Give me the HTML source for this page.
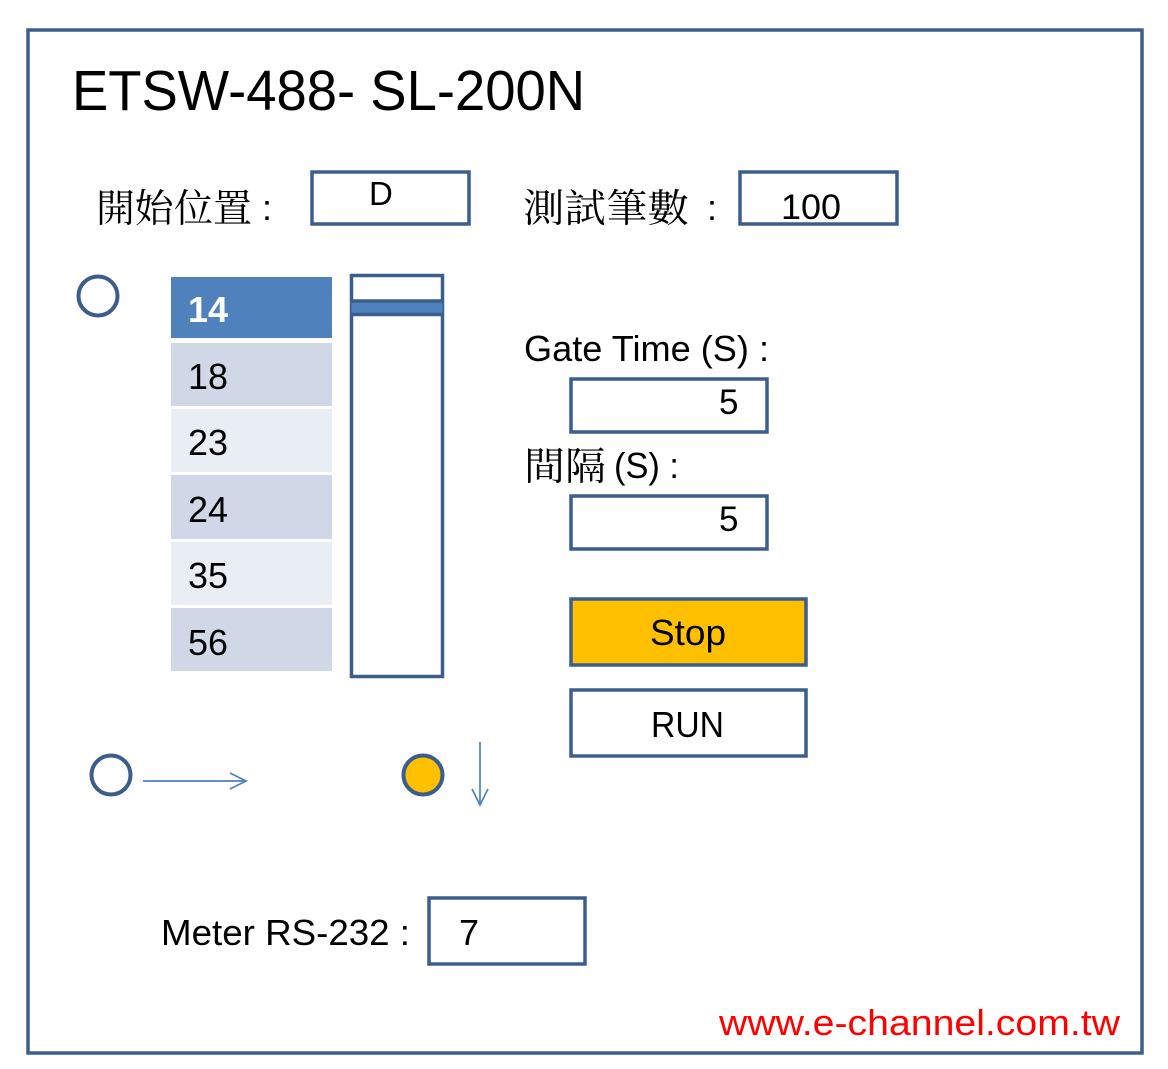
<!DOCTYPE html>
<html><head><meta charset="utf-8"><style>html,body{margin:0;padding:0;background:#fff}svg{display:block}</style></head>
<body>
<svg width="1168" height="1069" viewBox="0 0 1168 1069" xmlns="http://www.w3.org/2000/svg" font-family="'Liberation Sans', sans-serif">
<rect x="0" y="0" width="1168" height="1069" fill="#fff"/>
<rect x="28" y="30" width="1114" height="1023" fill="none" stroke="#3b5e8c" stroke-width="3.5"/>
<text x="72" y="110" font-size="57" textLength="513" lengthAdjust="spacingAndGlyphs">ETSW-488- SL-200N</text>

<text x="96" y="222" font-size="39" font-family="'Liberation Serif','Noto Serif CJK TC','Noto Serif CJK SC',serif" textLength="156" lengthAdjust="spacingAndGlyphs">開始位置</text>
<text x="262" y="220" font-size="36">:</text>
<rect x="312" y="172" width="157" height="52" fill="#fff" stroke="#3b5e8c" stroke-width="3.5"/>
<text x="369" y="205" font-size="33">D</text>

<text x="523" y="222" font-size="39" font-family="'Liberation Serif','Noto Serif CJK TC','Noto Serif CJK SC',serif" textLength="166" lengthAdjust="spacingAndGlyphs">測試筆數</text>
<text x="707" y="220" font-size="36">:</text>
<rect x="740" y="172" width="157" height="52" fill="#fff" stroke="#3b5e8c" stroke-width="3.5"/>
<text x="781" y="219" font-size="35" textLength="60" lengthAdjust="spacingAndGlyphs">100</text>

<circle cx="98" cy="296" r="19.5" fill="none" stroke="#3b5e8c" stroke-width="4"/>

<rect x="171" y="277" width="161" height="61" fill="#4f81bd"/>
<text x="188" y="322" font-size="36" font-weight="bold" fill="#fff" textLength="40" lengthAdjust="spacingAndGlyphs">14</text>
<rect x="171" y="343" width="161" height="63" fill="#d0d8e8"/>
<text x="188" y="389" font-size="36" textLength="40" lengthAdjust="spacingAndGlyphs">18</text>
<rect x="171" y="409" width="161" height="63" fill="#e9edf4"/>
<text x="188" y="455" font-size="36" textLength="40" lengthAdjust="spacingAndGlyphs">23</text>
<rect x="171" y="475" width="161" height="64" fill="#d0d8e8"/>
<text x="188" y="522" font-size="36" textLength="40" lengthAdjust="spacingAndGlyphs">24</text>
<rect x="171" y="542" width="161" height="63" fill="#e9edf4"/>
<text x="188" y="588" font-size="36" textLength="40" lengthAdjust="spacingAndGlyphs">35</text>
<rect x="171" y="608" width="161" height="63" fill="#d0d8e8"/>
<text x="188" y="655" font-size="36" textLength="40" lengthAdjust="spacingAndGlyphs">56</text>

<rect x="351.5" y="275.5" width="91" height="401" fill="#fff" stroke="#3b5e8c" stroke-width="3.5"/>
<rect x="351.5" y="301" width="91" height="13" fill="#4f81bd"/>
<line x1="351" y1="301" x2="443" y2="301" stroke="#3b5e8c" stroke-width="3.5"/>
<line x1="351" y1="314.5" x2="443" y2="314.5" stroke="#3b5e8c" stroke-width="3.5"/>

<text x="524" y="361" font-size="36" textLength="245" lengthAdjust="spacingAndGlyphs">Gate Time (S) :</text>
<rect x="571" y="379" width="196" height="53" fill="#fff" stroke="#3b5e8c" stroke-width="3.5"/>
<text x="719" y="414" font-size="35">5</text>

<text x="524" y="480" font-size="39" font-family="'Liberation Serif','Noto Serif CJK TC','Noto Serif CJK SC',serif" textLength="82" lengthAdjust="spacingAndGlyphs">間隔</text>
<text x="614" y="478" font-size="36" textLength="65" lengthAdjust="spacingAndGlyphs">(S) :</text>
<rect x="571" y="496" width="196" height="53" fill="#fff" stroke="#3b5e8c" stroke-width="3.5"/>
<text x="719" y="531" font-size="35">5</text>

<rect x="571" y="599" width="235" height="66" fill="#ffc000" stroke="#3b5e8c" stroke-width="3.5"/>
<text x="650" y="645" font-size="36" textLength="76" lengthAdjust="spacingAndGlyphs">Stop</text>
<rect x="571" y="690" width="235" height="66" fill="#fff" stroke="#3b5e8c" stroke-width="3.5"/>
<text x="651" y="737" font-size="36" textLength="73" lengthAdjust="spacingAndGlyphs">RUN</text>

<circle cx="111" cy="775" r="19.5" fill="none" stroke="#3b5e8c" stroke-width="4"/>
<line x1="143" y1="781" x2="246" y2="781" stroke="#4f81bd" stroke-width="1.7"/>
<polyline points="230,773 246,781 230,789" fill="none" stroke="#4f81bd" stroke-width="1.7"/>
<circle cx="423" cy="775" r="19.5" fill="#ffc000" stroke="#3b5e8c" stroke-width="4"/>
<line x1="480" y1="742" x2="480" y2="805" stroke="#4f81bd" stroke-width="1.7"/>
<polyline points="472,789 480,805 488,789" fill="none" stroke="#4f81bd" stroke-width="1.7"/>

<text x="161" y="945" font-size="36" textLength="249" lengthAdjust="spacingAndGlyphs">Meter RS-232 :</text>
<rect x="429" y="898" width="156" height="66" fill="#fff" stroke="#3b5e8c" stroke-width="3.5"/>
<text x="459" y="945" font-size="36">7</text>

<text x="719" y="1035" font-size="36" fill="#ff0000" textLength="401" lengthAdjust="spacingAndGlyphs">www.e-channel.com.tw</text>
</svg>
</body></html>
